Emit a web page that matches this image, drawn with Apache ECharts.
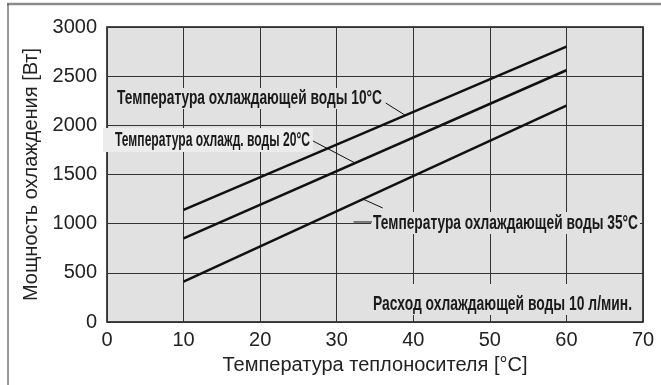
<!DOCTYPE html>
<html>
<head>
<meta charset="utf-8">
<script src="https://cdn.jsdelivr.net/npm/echarts@6/dist/echarts.min.js"></script>
<style>
html,body{margin:0;padding:0;background:#fff;}
#c{width:661px;height:385px;}
</style>
</head>
<body>
<div id="c"></div>
<script>
// ---- data ----
var xTicks = [0, 10, 20, 30, 40, 50, 60, 70];
var yTicks = [0, 500, 1000, 1500, 2000, 2500, 3000];
var heatTemp = [10, 60];                 // Температура теплоносителя [°C]
var water10 = [1140, 2800];              // охлаждающая вода 10°C
var water20 = [850, 2560];               // охлаждающая вода 20°C
var water35 = [410, 2200];               // охлаждающая вода 35°C
var xName = 'Температура теплоносителя [°C]';
var yName = 'Мощность охлаждения [Вт]';
var label10 = 'Температура охлаждающей воды 10°C';
var label20 = 'Температура охлажд. воды 20°C';
var label35 = 'Температура охлаждающей воды 35°C';
var labelFlow = 'Расход охлаждающей воды 10 л/мин.';
// leader lines (data coordinates)
var leader10 = [[36.4, 2227], [38.9, 2105]];
var leader20 = [[26.9, 1841], [32.4, 1617]];
var leader35 = [[33.4, 1251], [36.0, 1160]];
var dash35 = [[32.2, 1017], [34.6, 1017]];

function pairs(xs, ys) { return xs.map(function (x, i) { return [x, ys[i]]; }); }

var chart = echarts.init(document.getElementById('c'), null, {renderer: 'canvas'});
var plotBg = '#e1e1e1';
var labelFont = '"Liberation Sans Narrow", "Arial Narrow", sans-serif';
var mctx = document.createElement('canvas').getContext('2d');
function fitText(str, left, cy, width, size) {
  mctx.font = 'bold ' + size + 'px ' + labelFont;
  var w = mctx.measureText(str).width;
  return {
    type: 'text', x: left, y: cy, scaleX: width / w, z: 6,
    style: {text: str, x: 0, y: 0, fill: '#1a1a1a', font: 'bold ' + size + 'px ' + labelFont,
      textAlign: 'left', textVerticalAlign: 'middle'}
  };
}
function box(x1, y1, x2, y2, fill) {
  return {type: 'rect', z: 5, shape: {x: x1, y: y1, width: x2 - x1, height: y2 - y1}, style: {fill: fill}};
}
function lineSeries(data, w) {
  return {type: 'line', data: data, symbol: 'none', z: 10, silent: true,
    lineStyle: {color: '#111', width: w}};
}
var axisFont = {fontSize: 20, color: '#222', fontFamily: 'Liberation Sans'};

chart.setOption({
  animation: false,
  grid: {left: 107, right: 18, top: 27, bottom: 63, show: true, backgroundColor: plotBg,
    borderColor: '#111', borderWidth: 1.5},
  xAxis: {
    type: 'value', min: xTicks[0], max: xTicks[xTicks.length - 1], interval: 10,
    name: xName, nameLocation: 'middle', nameGap: 33,
    nameTextStyle: axisFont,
    axisLine: {show: false}, axisTick: {show: false},
    axisLabel: Object.assign({margin: 8, formatter: function (v) { return String(v); }}, axisFont),
    splitLine: {show: true, lineStyle: {color: '#333', width: 1}}
  },
  yAxis: {
    type: 'value', min: yTicks[0], max: yTicks[yTicks.length - 1], interval: 500,
    name: yName, nameLocation: 'middle', nameGap: 66, nameRotate: 90,
    nameTextStyle: axisFont,
    axisLine: {show: false}, axisTick: {show: false},
    axisLabel: Object.assign({margin: 10, formatter: function (v) { return String(v); }}, axisFont),
    splitLine: {show: true, lineStyle: {color: '#333', width: 1}}
  },
  series: [
    lineSeries(pairs(heatTemp, water10), 2.5),
    lineSeries(pairs(heatTemp, water20), 2.5),
    lineSeries(pairs(heatTemp, water35), 2.5),
    lineSeries(leader10, 1),
    lineSeries(leader20, 1),
    lineSeries(leader35, 1),
    lineSeries(dash35, 1)
  ],
  graphic: [
    {type: 'line', z: 6, shape: {x1: 7, y1: 4, x2: 661, y2: 4}, style: {stroke: '#8a8a8a', lineWidth: 2.5}},
    {type: 'line', z: 6, shape: {x1: 8, y1: 4, x2: 8, y2: 385}, style: {stroke: '#333', lineWidth: 1}},
    box(113, 88, 389, 109, plotBg),
    box(103, 128, 313, 152, '#ececec'),
    box(371, 212, 640, 234, plotBg),
    box(369, 284, 637, 315, plotBg),
    fitText(label10, 117, 98, 265, 21),
    fitText(label20, 115, 140, 195, 21),
    fitText(label35, 373, 223, 265, 21),
    fitText(labelFlow, 373, 304, 259, 21)
  ]
});
</script>
</body>
</html>
